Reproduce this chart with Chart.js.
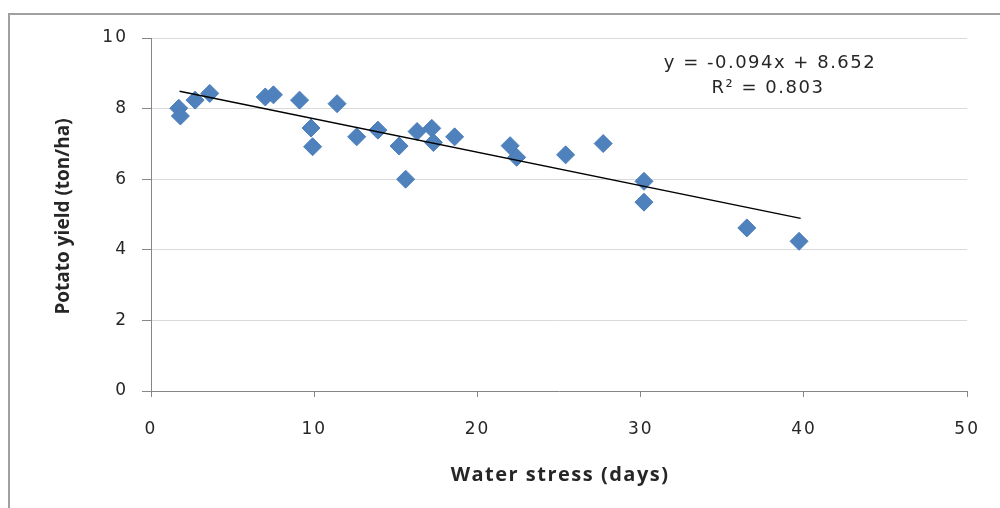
<!DOCTYPE html>
<html>
<head>
<meta charset="utf-8">
<script src="https://cdn.jsdelivr.net/npm/chart.js@4.4.0/dist/chart.umd.min.js"></script>
<style>
  html, body { margin: 0; padding: 0; background: #fff; }
  #wrap { width: 1000px; height: 508px; position: relative; }
</style>
</head>
<body>
<div id="wrap"><canvas id="chart"></canvas></div>
<script>
// Values
const waterStress = [1.7, 1.8, 2.7, 3.6, 7.0, 7.5, 9.1, 9.8, 9.9, 11.4, 12.6, 13.9, 15.2, 15.6, 16.3, 17.2, 17.3, 18.6, 22.0, 22.4, 25.4, 27.7, 30.2, 30.2, 36.5, 39.7];
const potatoYield = [8.01, 7.79, 8.24, 8.43, 8.33, 8.39, 8.24, 7.45, 6.92, 8.14, 7.20, 7.39, 6.94, 6.00, 7.35, 7.44, 7.04, 7.20, 6.95, 6.62, 6.69, 7.01, 5.94, 5.35, 4.62, 4.24];
const trendX = [1.75, 39.8];
const trendY = [8.49, 4.89];
const xTicks = [0, 10, 20, 30, 40, 50];
const yTicks = [0, 2, 4, 6, 8, 10];
const xTitle = 'Water stress (days)';
const yTitle = 'Potato yield (ton/ha)';
const equationLines = ['y = -0.094x + 8.652', 'R² = 0.803'];

const axisGrey = '#868686';
const gridGrey = '#d9d9d9';
const textColor = '#262626';

// Excel-like frame, axis titles and the trendline label
const decorations = {
    id: 'decorations',
    beforeDraw(chart) {
        const ctx = chart.ctx;
        ctx.letterSpacing = '2px'; // tick labels are widely spaced in the reference
        ctx.save();
        ctx.strokeStyle = '#a0a0a0';
        ctx.lineWidth = 2;
        ctx.strokeRect(9, 14, 1100, 600);
        ctx.restore();
    },
    afterDraw(chart) {
        const ctx = chart.ctx;
        const area = chart.chartArea;
        ctx.save();
        ctx.fillStyle = textColor;

        // x title
        ctx.font = 'bold 20px "Open Sans"';
        ctx.letterSpacing = '1.5px';
        ctx.textAlign = 'center';
        ctx.textBaseline = 'middle';
        ctx.fillText(xTitle, (area.left + area.right) / 2 + 1, 475);

        // y title
        ctx.save();
        ctx.translate(64, (area.top + area.bottom) / 2 + 2);
        ctx.rotate(-Math.PI / 2);
        ctx.font = 'bold 19px "Open Sans"';
        ctx.letterSpacing = '0px';
        ctx.fillText(yTitle, 0, 0);
        ctx.restore();

        // regression label
        ctx.font = '18px "DejaVu Sans"';
        ctx.letterSpacing = '1.5px';
        ctx.textBaseline = 'alphabetic';
        ctx.fillText(equationLines[0], 770, 68);
        ctx.fillText(equationLines[1], 768, 93);
        ctx.restore();
    }
};

new Chart(document.getElementById('chart'), {
    type: 'scatter',
    data: {
        datasets: [
            {
                label: 'Potato yield',
                data: waterStress.map((x, i) => ({ x: x, y: potatoYield[i] })),
                pointStyle: 'rectRot',
                pointRadius: 9,
                pointHoverRadius: 9,
                backgroundColor: '#4f81bd',
                borderColor: '#4a7ebb',
                borderWidth: 1,
                order: 2
            },
            {
                label: 'Linear trend',
                type: 'line',
                data: trendX.map((x, i) => ({ x: x, y: trendY[i] })),
                borderColor: '#000',
                borderWidth: 1.5,
                pointRadius: 0,
                fill: false,
                order: 1
            }
        ]
    },
    options: {
        responsive: true,
        maintainAspectRatio: false,
        animation: false,
        layout: { padding: { top: 38, right: 32, left: 0, bottom: 0 } },
        plugins: {
            legend: { display: false },
            tooltip: { enabled: false }
        },
        scales: {
            x: {
                type: 'linear',
                min: xTicks[0],
                max: xTicks[xTicks.length - 1],
                afterFit: s => { s.height = 117; },
                afterBuildTicks: s => { s.ticks = xTicks.map(v => ({ value: v })); },
                border: { color: axisGrey, width: 1 },
                grid: { drawOnChartArea: false, tickLength: 6, tickColor: axisGrey },
                ticks: { color: textColor, padding: 22, font: { family: 'DejaVu Sans', size: 17 } }
            },
            y: {
                min: yTicks[0],
                max: yTicks[yTicks.length - 1],
                afterFit: s => { s.width = 151; },
                afterBuildTicks: s => { s.ticks = yTicks.map(v => ({ value: v })); },
                border: { color: axisGrey, width: 1 },
                grid: { color: gridGrey, tickLength: 9, tickColor: axisGrey },
                ticks: { color: textColor, padding: 14, font: { family: 'DejaVu Sans', size: 17 } }
            }
        }
    },
    plugins: [decorations]
});
</script>
</body>
</html>
